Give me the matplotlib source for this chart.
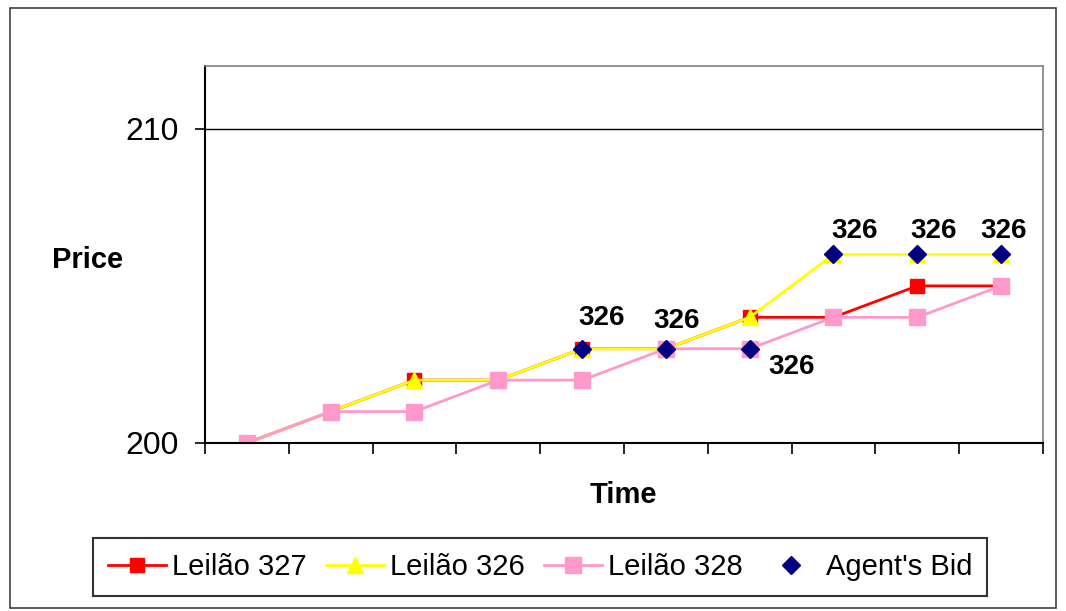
import numpy as np
import matplotlib.pyplot as plt
from matplotlib.patches import Rectangle

plt.rcParams["font.family"] = ["Liberation Sans", "DejaVu Sans"]

t = np.arange(1, 11)
leilao_327 = [200, 201, 202, 202, 203, 203, 204, 204, 205, 205]
leilao_326 = [200, 201, 202, 202, 203, 203, 204, 206, 206, 206]
leilao_328 = [200, 201, 201, 202, 202, 203, 203, 204, 204, 205]
bid_t = [5, 6, 7, 8, 9, 10]
bid_price = [203, 203, 203, 206, 206, 206]
bid_labels = ["326", "326", "326", "326", "326", "326"]
# label offsets in points
label_offsets = [(14, 22), (8, 20), (30, -13), (15, 17), (12, 17), (2, 17)]

fig = plt.figure(figsize=(10.66, 6.11), dpi=100)
fig.patches.append(Rectangle((0.009, 0.005), 0.982, 0.982, transform=fig.transFigure,
                             fill=False, edgecolor="#404040", linewidth=1.2))
ax = fig.add_axes([0.1923, 0.275, 0.7861, 0.617])

ax.plot(t, leilao_327, color="#ff0000", marker="s", markersize=10, linewidth=2, label="Leilão 327")
ax.plot(t, leilao_326, color="#ffff00", marker="^", markersize=11, linewidth=2, label="Leilão 326")
ax.plot(t, leilao_328, color="#ff99cc", marker="s", markersize=11, linewidth=2, label="Leilão 328")
ax.plot(bid_t, bid_price, color="#000080", marker="D", markersize=9, linestyle="none", label="Agent's Bid")

for x, y, s, off in zip(bid_t, bid_price, bid_labels, label_offsets):
    ax.annotate(s, (x, y), xytext=off, textcoords="offset points", ha="center", va="center",
                fontsize=20, fontweight="bold")

ax.set_xlim(0.5, 10.5)
ax.set_ylim(200, 212)
ax.set_yticks([200, 210])
ax.set_yticklabels(["200", "210"], fontsize=23)
ax.set_xticks(np.arange(0.5, 11, 1))
ax.set_xticklabels([])
ax.tick_params(axis="x", direction="out", length=8, width=1.2)
ax.tick_params(axis="y", direction="out", length=7, width=1.2, pad=12)
ax.axhline(210, color="black", linewidth=1)
for side in ["left", "bottom"]:
    ax.spines[side].set_color("black")
    ax.spines[side].set_linewidth(1.5)
for side in ["top", "right"]:
    ax.spines[side].set_color("#808080")
    ax.spines[side].set_linewidth(1.2)

fig.text(0.082, 0.574, "Price", fontsize=21, fontweight="bold", ha="center", va="center")
fig.text(0.585, 0.19, "Time", fontsize=21, fontweight="bold", ha="center", va="center")

leg = fig.legend(loc="center", bbox_to_anchor=(0.5066, 0.072), ncol=4, fontsize=21,
                 frameon=True, fancybox=False, edgecolor="black", handlelength=2.0,
                 columnspacing=0.65, handletextpad=0.2, borderpad=0.5, borderaxespad=0)
leg.get_frame().set_linewidth(1.5)

fig.savefig("out.png", dpi=100)
